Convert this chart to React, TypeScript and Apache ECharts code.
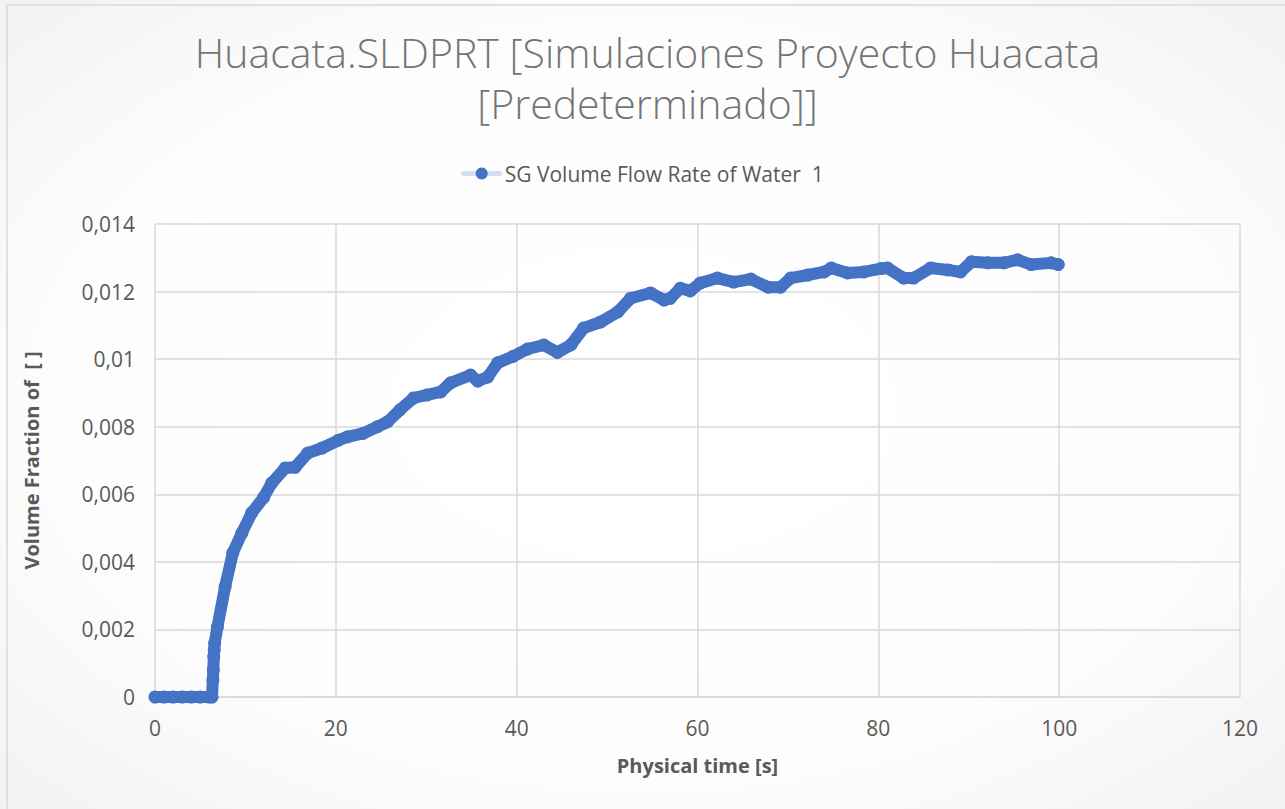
import React, { useEffect, useRef } from "react";
import * as echarts from "echarts";

const titleLine1 = "Huacata.SLDPRT [Simulaciones Proyecto Huacata";
const titleLine2 = "[Predeterminado]]";
const seriesName = "SG Volume Flow Rate of Water  1";
const xAxisName = "Physical time [s]";
const yAxisName = "Volume Fraction of  [ ]";

const times = [
  0, 1, 2, 3, 4, 5, 6, 6.3, 6.4, 6.45, 6.5, 6.55, 6.6, 6.9, 7.75, 8.6, 9.6, 10.7, 12.0, 12.9,
  14.4, 15.5, 16.9, 18.5, 20.3, 21.3, 23, 24.6, 25.7, 27.1, 28.6, 30.1, 31.6, 32.7, 34.9, 35.7,
  36.8, 37.9, 39.6, 41.2, 43, 44.5, 46, 47.4, 49.3, 51.2, 52.6, 54.8, 56.3, 57, 58.1, 59.2,
  60.3, 62.2, 64, 65.9, 67.8, 69.2, 70.3, 72.2, 74, 74.8, 76.6, 78.4, 80.3, 81, 82.8, 83.9,
  85.8, 87.7, 89.1, 90.3, 92.1, 93.9, 95.4, 96.9, 99.1, 99.9,
];

const values = [
  0, 0, 0, 0, 0, 0, 0, 0, 0.0005, 0.0008, 0.0012, 0.0014, 0.0016, 0.00207, 0.00326, 0.00426,
  0.00485, 0.00545, 0.0059, 0.00633, 0.00678, 0.0068, 0.00722, 0.00737, 0.0076, 0.0077, 0.0078,
  0.008, 0.00814, 0.0085, 0.00885, 0.00894, 0.00903, 0.0093, 0.00953, 0.00935, 0.00947, 0.00989,
  0.01008, 0.0103, 0.01042, 0.0102, 0.01042, 0.01092, 0.0111, 0.0114, 0.0118, 0.01196, 0.01175,
  0.0118, 0.0121, 0.01202, 0.01225, 0.0124, 0.01228, 0.01237, 0.01213, 0.01213, 0.0124, 0.01249,
  0.01258, 0.0127, 0.01255, 0.01258, 0.01268, 0.0127, 0.0124, 0.0124, 0.0127, 0.01264, 0.01258,
  0.01288, 0.01285, 0.01285, 0.01294, 0.0128, 0.01285, 0.0128,
];

const xMin = 0;
const xMax = 120;
const xStep = 20;
const yMin = 0;
const yMax = 0.014;
const yStep = 0.002;

const fmtY = (v: number) =>
  v === 0 ? "0" : parseFloat(v.toFixed(3)).toString().replace(".", ",");

export default function App() {
  const ref = useRef<HTMLDivElement>(null);

  useEffect(() => {
    if (!ref.current) return;
    const chart = echarts.init(ref.current, undefined, { renderer: "svg" });
    const data = times.map((t, i) => [t, values[i]]);
    const font = "'Open Sans', 'Noto Sans', sans-serif";
    const titleStyle = {
      fontFamily: font,
      fontSize: 41,
      fontWeight: 300,
      color: "#757575",
    };
    chart.setOption({
      animation: false,
      backgroundColor: new echarts.graphic.RadialGradient(0.5, 0.5, 0.75, [
        { offset: 0, color: "#FFFFFF" },
        { offset: 0.6, color: "#FDFDFD" },
        { offset: 1, color: "#F0F0F0" },
      ]),
      graphic: [
        {
          type: "rect",
          shape: { x: 7, y: 5, width: 1290, height: 820 },
          style: { fill: "none", stroke: "#D9D9D9", lineWidth: 1.5 },
          silent: true,
        },
      ],
      title: [
        { text: titleLine1, left: "50%", top: 26, textAlign: "center", textStyle: titleStyle },
        { text: titleLine2, left: "50%", top: 77, textAlign: "center", textStyle: titleStyle },
      ],
      legend: {
        top: 158,
        left: "center",
        itemWidth: 36,
        itemHeight: 15,
        itemGap: 10,
        lineStyle: { color: "#D3DEF1", width: 5 },
        textStyle: { fontFamily: font, fontSize: 21, color: "#595959" },
        data: [{ name: seriesName }],
      },
      grid: { left: 155, right: 45, top: 224, bottom: 112, containLabel: false },
      xAxis: {
        type: "value",
        min: xMin,
        max: xMax,
        interval: xStep,
        name: xAxisName,
        nameLocation: "middle",
        nameGap: 58,
        nameTextStyle: { fontFamily: font, fontSize: 20, fontWeight: "bold", color: "#595959" },
        axisLine: { show: true, lineStyle: { color: "#D9D9D9", width: 1.5 } },
        axisTick: { show: false },
        axisLabel: { fontFamily: font, fontSize: 21, color: "#595959", margin: 20 },
        splitLine: { show: true, lineStyle: { color: "#D9D9D9", width: 1.5 } },
      },
      yAxis: {
        type: "value",
        min: yMin,
        max: yMax,
        interval: yStep,
        name: yAxisName,
        nameLocation: "middle",
        nameGap: 114,
        nameRotate: 90,
        nameTextStyle: { fontFamily: font, fontSize: 20, fontWeight: "bold", color: "#595959" },
        axisLine: { show: false },
        axisTick: { show: false },
        axisLabel: { fontFamily: font, fontSize: 21, color: "#595959", margin: 20, formatter: fmtY },
        splitLine: { show: true, lineStyle: { color: "#D9D9D9", width: 1.5 } },
      },
      series: [
        {
          name: seriesName,
          type: "line",
          data,
          symbol: "circle",
          symbolSize: 13,
          showAllSymbol: true,
          itemStyle: { color: "#4472C4" },
          lineStyle: { color: "#4472C4", width: 12, cap: "round", join: "round" },
        },
      ],
    });
    return () => chart.dispose();
  }, []);

  return (
    <div
      ref={ref}
      style={{ position: "absolute", left: 0, top: 0, width: 1285, height: 809 }}
    />
  );
}
